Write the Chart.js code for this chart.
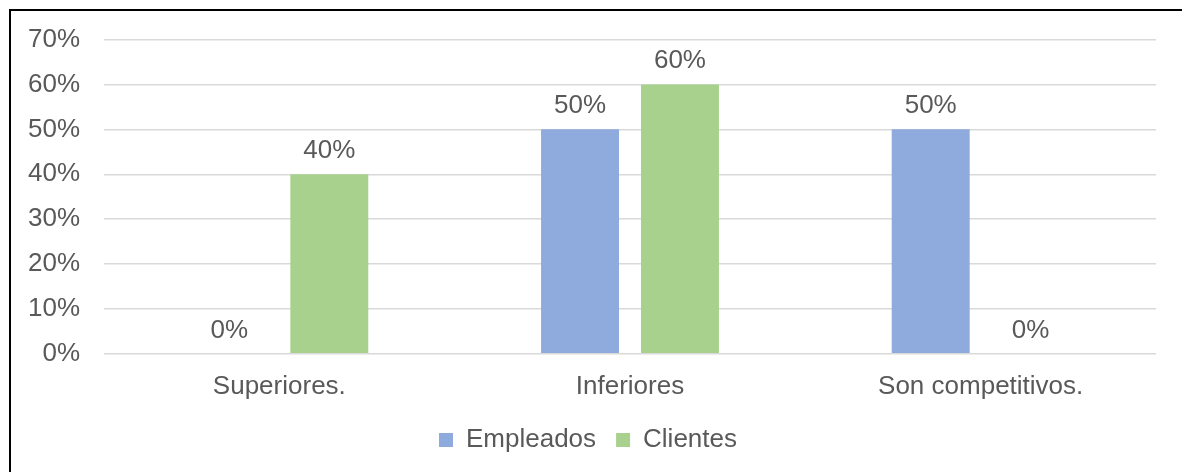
<!DOCTYPE html>
<html>
<head>
<meta charset="utf-8">
<script src="https://cdn.jsdelivr.net/npm/chart.js@4.4.0/dist/chart.umd.min.js"></script>
<style>
  html, body { margin: 0; padding: 0; background: #fff; }
  #wrap { position: relative; width: 1182px; height: 472px; }
  #frame { position: absolute; left: 9px; top: 9px; right: 0; bottom: 0;
           border-left: 2px solid #000; border-top: 2px solid #000; pointer-events: none; }
</style>
</head>
<body>
<div id="wrap">
  <canvas id="myChart" width="1182" height="472"></canvas>
  <div id="frame"></div>
</div>
<script>
const categories = ['Superiores.', 'Inferiores', 'Son competitivos.'];
const empleados = [0, 50, 50];
const clientes = [40, 60, 0];
const yTicks = [0, 10, 20, 30, 40, 50, 60, 70];

const textColor = '#595959';
const fontFamily = '"Liberation Sans", Arial, sans-serif';
const fontSize = 26;

// draw value labels above each bar
const valueLabels = {
    id: 'valueLabels',
    afterDatasetsDraw(chart) {
        const ctx = chart.ctx;
        ctx.save();
        ctx.font = fontSize + 'px ' + fontFamily;
        ctx.fillStyle = textColor;
        ctx.textAlign = 'center';
        ctx.textBaseline = 'alphabetic';
        chart.data.datasets.forEach((ds, i) => {
            chart.getDatasetMeta(i).data.forEach((bar, j) => {
                ctx.fillText(ds.data[j] + '%', bar.x, bar.y - 16);
            });
        });
        ctx.restore();
    }
};

const data = {
    labels: categories,
    datasets: [{
            label: 'Empleados',
            data: empleados,
            backgroundColor: '#8FAADC'
        }, {
            label: 'Clientes',
            data: clientes,
            backgroundColor: '#A9D18E'
        }]
};

const config = {
    type: 'bar',
    data: data,
    plugins: [valueLabels],
    options: {
        responsive: false,
        animation: false,
        categoryPercentage: 0.57,
        barPercentage: 0.78,
        layout: {
            padding: { left: 20, right: 26, top: 32, bottom: 9 }
        },
        plugins: {
            tooltip: { enabled: false },
            legend: {
                position: 'bottom',
                labels: {
                    color: textColor,
                    font: { family: fontFamily, size: fontSize },
                    boxWidth: 14,
                    boxHeight: 14,
                    padding: 20
                }
            }
        },
        scales: {
            y: {
                min: 0,
                max: 70,
                afterFit(scale) { scale.width = 84; },
                afterBuildTicks(scale) { scale.ticks = yTicks.map(v => ({ value: v })); },
                border: { display: false },
                grid: {
                    color: '#D9D9D9',
                    lineWidth: 1.5,
                    drawTicks: false
                },
                ticks: {
                    color: textColor,
                    padding: 24,
                    font: { family: fontFamily, size: fontSize },
                    callback: v => v + '%'
                }
            },
            x: {
                afterFit(scale) { scale.height -= 12; },
                border: { display: false },
                grid: { display: false, drawTicks: false },
                ticks: {
                    color: textColor,
                    padding: 17,
                    font: { family: fontFamily, size: fontSize }
                }
            }
        }
    }
};

var ctx = document.getElementById('myChart');
const myChart = new Chart(ctx, config);
</script>
</body>
</html>
